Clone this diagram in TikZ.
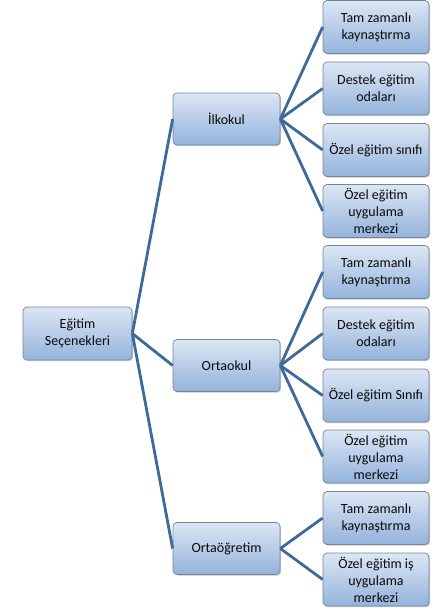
\documentclass[tikz,border=0pt]{standalone}
\usepackage{fontspec}
\setmainfont{Carlito}
\usetikzlibrary{shadows}
\definecolor{linkc}{RGB}{62,106,154}
\definecolor{boxtop}{RGB}{220,230,244}
\definecolor{boxbot}{RGB}{148,179,220}
\definecolor{boxline}{RGB}{118,132,152}
\definecolor{txt}{RGB}{10,10,10}
\tikzset{
  box/.style={draw=boxline, line width=0.7pt, rounded corners=4pt,
    top color=boxtop, bottom color=boxbot, align=center,
    text=txt, font=\fontsize{14}{17}\selectfont, inner sep=1pt,
    drop shadow={shadow xshift=1.2pt, shadow yshift=-1.2pt, opacity=0.35, fill=black!60}},
  rootbox/.style={box, minimum width=109pt, minimum height=53pt},
  midbox/.style={box, minimum width=107pt, minimum height=52pt},
  leafbox/.style={box, minimum width=106pt, minimum height=53pt},
  link/.style={draw=linkc, line width=2.8pt}
}
\begin{document}
\begin{tikzpicture}[x=1pt,y=-1pt]
\useasboundingbox (0,0) rectangle (437,612);
\node[rootbox] (root) at (77.5,333.5) {Eğitim\\Seçenekleri};
\node[midbox] (m1) at (226.5,119) {İlkokul};
\node[midbox] (m2) at (226.5,365.5) {Ortaokul};
\node[midbox] (m3) at (226.5,548.5) {Ortaöğretim};
\node[leafbox] (l1) at (376,27) {Tam zamanlı\\kaynaştırma};
\node[leafbox] (l2) at (376,88.5) {Destek eğitim\\odaları};
\node[leafbox] (l3) at (376,150) {Özel eğitim\ sınıfı};
\node[leafbox] (l4) at (376,211) {Özel eğitim\\uygulama\\merkezi};
\node[leafbox] (l5) at (376,272) {Tam zamanlı\\kaynaştırma};
\node[leafbox] (l6) at (376,333.5) {Destek eğitim\\odaları};
\node[leafbox] (l7) at (376,395.5) {Özel eğitim\ Sınıfı};
\node[leafbox] (l8) at (376,456.5) {Özel eğitim\\uygulama\\merkezi};
\node[leafbox] (l9) at (376,518) {Tam zamanlı\\kaynaştırma};
\node[leafbox] (l10) at (376,579.5) {Özel eğitim iş\\uygulama\\merkezi};
\foreach \m in {m1,m2,m3} \draw[link] (root.east) -- (\m.west);
\foreach \l in {l1,l2,l3,l4} \draw[link] (m1.east) -- (\l.west);
\foreach \l in {l5,l6,l7,l8} \draw[link] (m2.east) -- (\l.west);
\foreach \l in {l9,l10} \draw[link] (m3.east) -- (\l.west);
\end{tikzpicture}
\end{document}
